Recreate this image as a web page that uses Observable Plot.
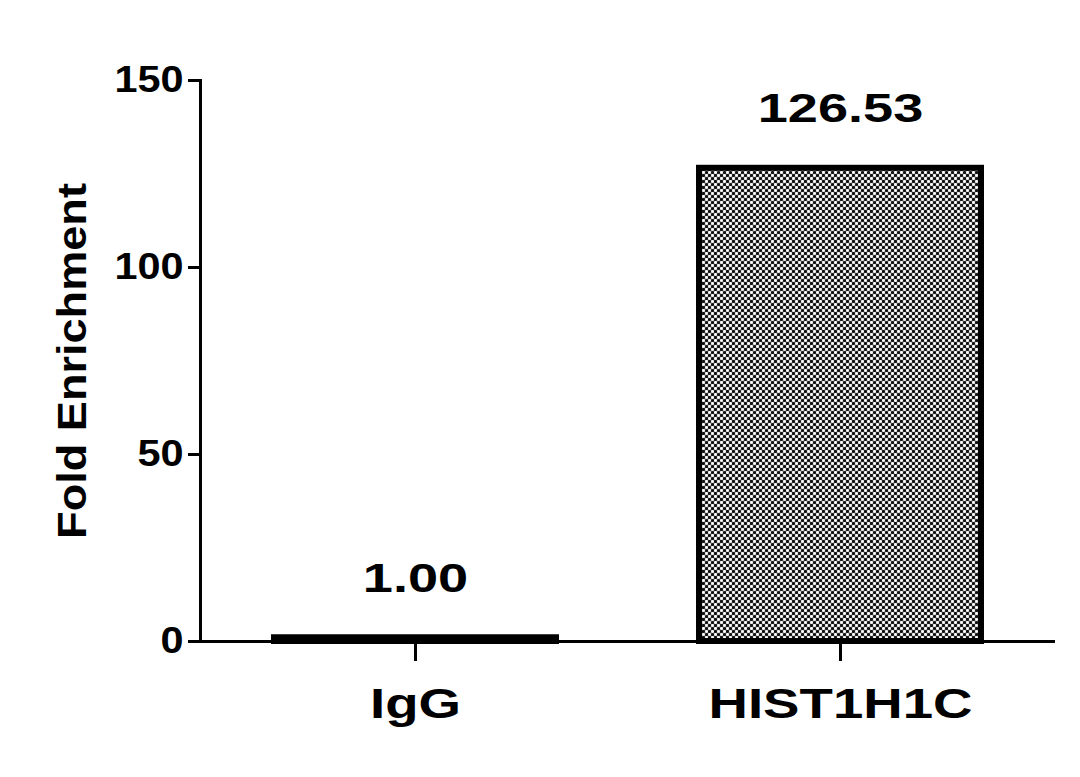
<!DOCTYPE html>
<html>
<head>
<meta charset="utf-8">
<script src="https://cdn.jsdelivr.net/npm/d3@7"></script>
<script src="https://cdn.jsdelivr.net/npm/@observablehq/plot@0.6"></script>
<style>
  html, body { margin: 0; padding: 0; background: #fff; }
</style>
</head>
<body>
<svg width="0" height="0" style="position:absolute">
  <defs>
    <pattern id="dots" patternUnits="userSpaceOnUse" width="6" height="6">
      <rect width="6" height="6" fill="#8c8c8c"></rect>
      <circle cx="1.5" cy="1.5" r="1.6" fill="#111"></circle>
      <circle cx="4.5" cy="4.5" r="1.6" fill="#111"></circle>
      <circle cx="4.5" cy="1.5" r="1.4" fill="#fff"></circle>
      <circle cx="1.5" cy="4.5" r="1.4" fill="#fff"></circle>
    </pattern>
  </defs>
</svg>
<div id="chart"></div>
<script>
const categories = ["IgG", "HIST1H1C"];
const values = [1.00, 126.53];
const yTicks = [0, 50, 100, 150];
const yLabel = "Fold Enrichment";

const data = categories.map((c, i) => ({name: c, value: values[i]}));
const fmt = v => v.toFixed(2);

const chart = Plot.plot({
  width: 1080,
  height: 777,
  marginLeft: 200,
  marginRight: 25,
  marginTop: 80,
  marginBottom: 136,
  style: {fontFamily: "'Liberation Sans', Arial, sans-serif", fontWeight: "bold", color: "black", background: "white"},
  x: {domain: categories, paddingInner: 0.3365, paddingOuter: 0.174, axis: null},
  y: {domain: [0, 150], axis: null},
  marks: [
    Plot.barY(data, {x: "name", y: "value", fill: "url(#dots)", stroke: "black", strokeWidth: 6}),
    Plot.ruleY([0], {insetLeft: -12, strokeWidth: 3, stroke: "black"}),
    Plot.frame({anchor: "left", strokeWidth: 3, stroke: "black"}),
    Plot.axisY({ticks: yTicks, tickSize: 12, tickPadding: 5, strokeWidth: 3, fontSize: 37, fontWeight: "bold", label: null}),
    Plot.axisX({tickSize: 20, tickPadding: 27, strokeWidth: 3, fontSize: 42, fontWeight: "bold", label: null}),
    Plot.text(data, {x: "name", y: "value", text: d => fmt(d.value), textAnchor: "middle", lineAnchor: "bottom", dy: -46, fontSize: 41, fontWeight: "bold", fill: "black"}),
    Plot.text([yLabel], {frameAnchor: "left", textAnchor: "middle", rotate: -90, dx: -115, lineAnchor: "bottom", fontSize: 41, fontWeight: "bold", fill: "black"})
  ]
});

document.getElementById("chart").appendChild(chart);

function stretchEl(el, sx) {
  const len = el.getComputedTextLength();
  if (len > 0) {
    el.setAttribute("textLength", (len * sx).toFixed(1));
    el.setAttribute("lengthAdjust", "spacingAndGlyphs");
  }
}
const valueTexts = values.map(fmt);
chart.querySelectorAll("text").forEach(el => {
  const g = el.parentNode;
  const aria = g && g.getAttribute ? (g.getAttribute("aria-label") || "") : "";
  const t = el.textContent;
  if (aria === "y-axis tick label") stretchEl(el, 1.12);
  else if (aria === "x-axis tick label") stretchEl(el, 1.3);
  else if (valueTexts.includes(t)) stretchEl(el, 1.32);
  else if (t === yLabel) stretchEl(el, 1.1);
});
</script>
</body>
</html>
